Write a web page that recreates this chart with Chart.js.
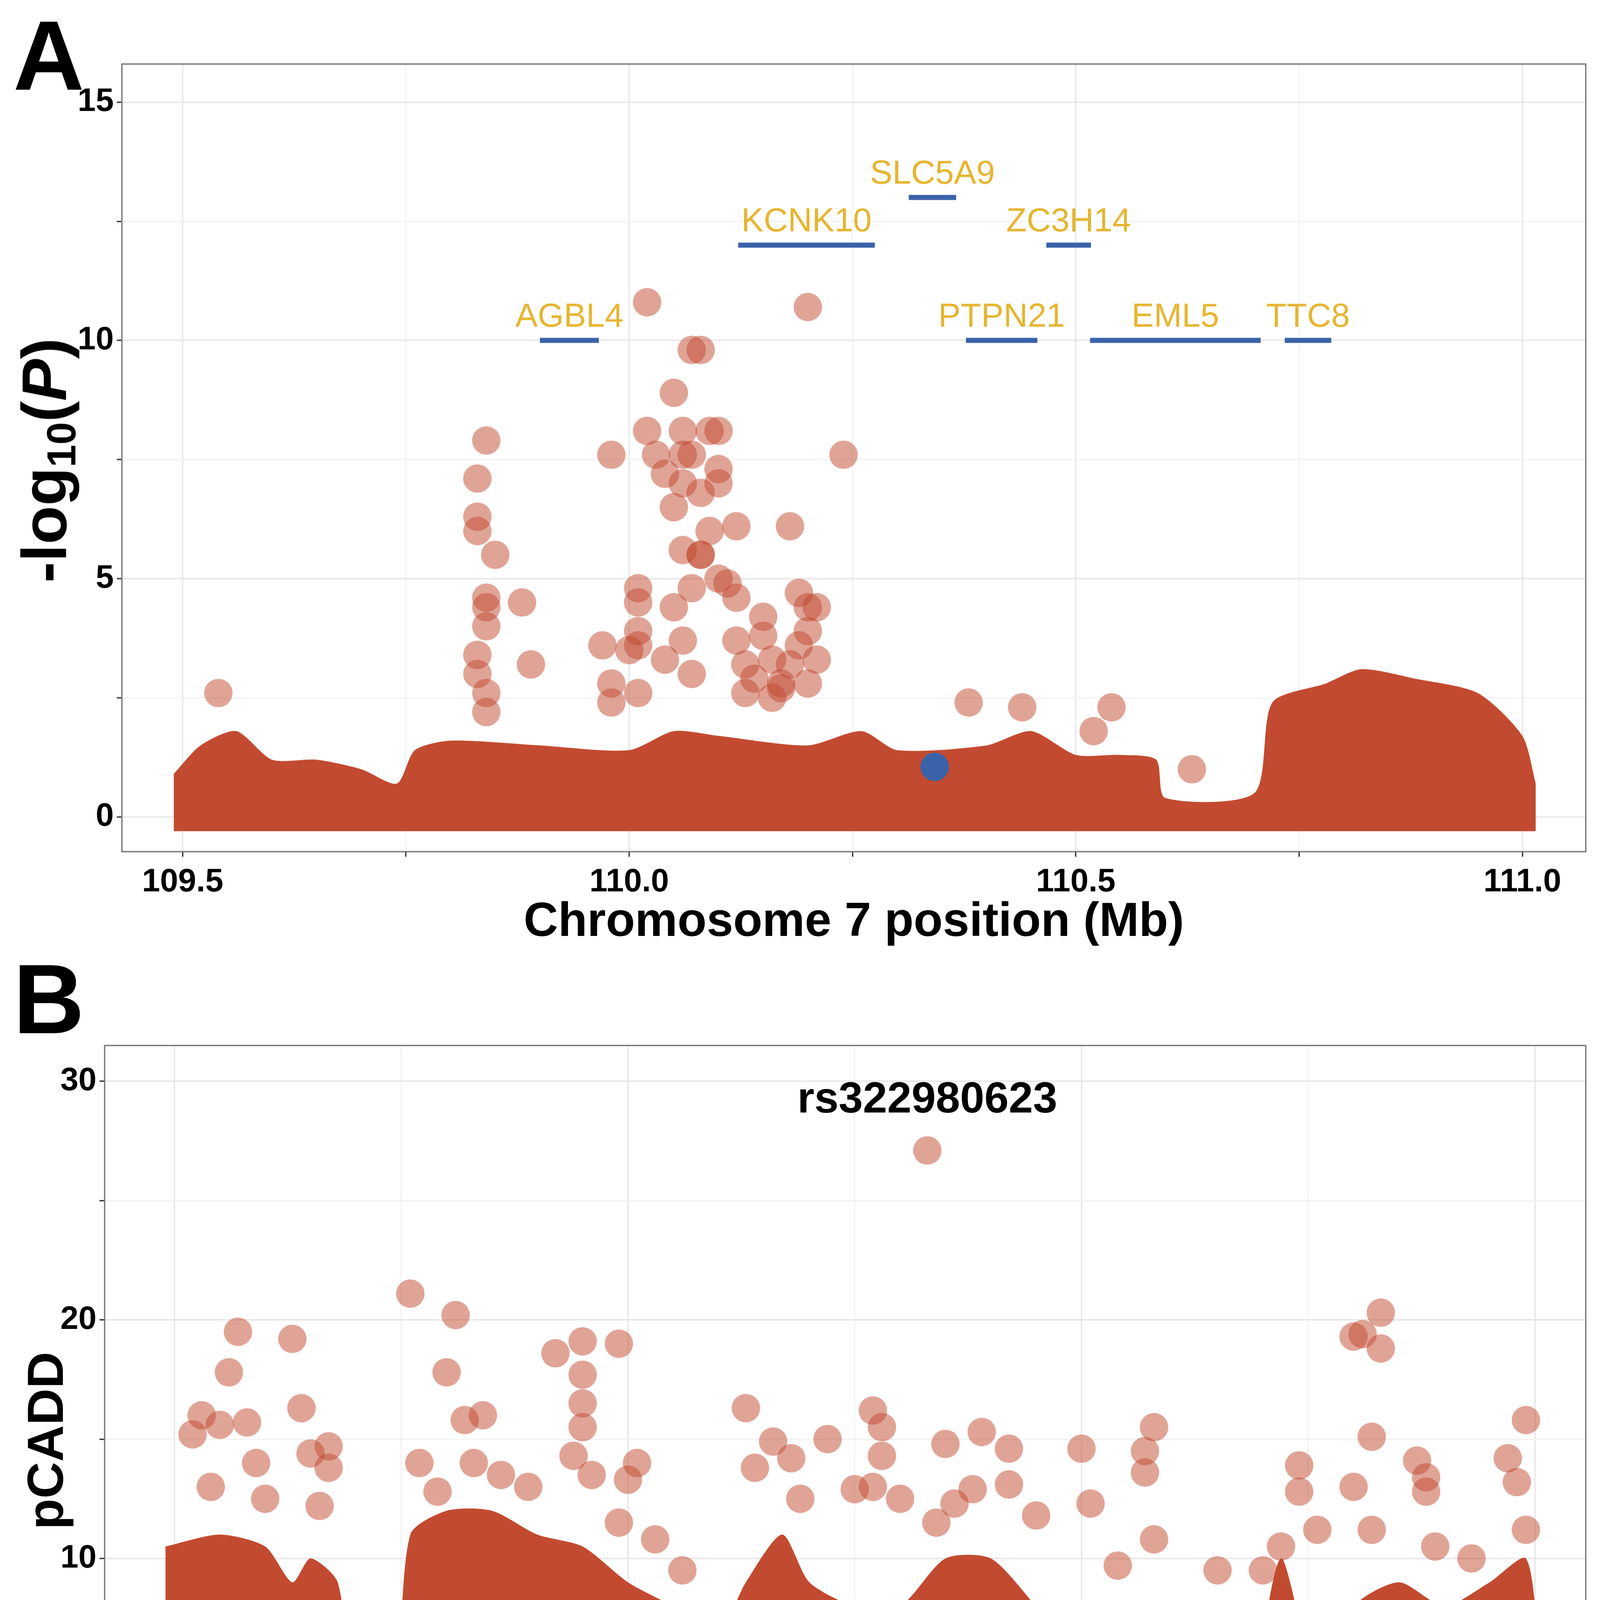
<!DOCTYPE html>
<html>
<head>
<meta charset="utf-8">
<script src="https://cdn.jsdelivr.net/npm/chart.js@4/dist/chart.umd.min.js"></script>
<style>
  body { margin: 0; background: #fff; overflow: hidden; }
  .wrap { position: absolute; left: 0; }
  canvas { display: block; }
</style>
</head>
<body>
<div class="wrap" id="wrapA"><canvas id="chartA" width="1575" height="940"></canvas></div>
<div class="wrap" id="wrapB"><canvas id="chartB" width="1575" height="960"></canvas></div>
<script>
// ---- panel A data ----
const aBandX = [109.49, 109.52, 109.56, 109.6, 109.65, 109.7, 109.74, 109.76, 109.8, 109.9, 110.0, 110.05, 110.1, 110.2, 110.26, 110.3, 110.4, 110.45, 110.5, 110.55, 110.59, 110.6, 110.7, 110.72, 110.78, 110.82, 110.88, 110.95, 111.0, 111.015];
const aBandY = [0.9, 1.5, 1.8, 1.2, 1.2, 1.0, 0.7, 1.4, 1.6, 1.5, 1.4, 1.8, 1.7, 1.5, 1.8, 1.4, 1.5, 1.8, 1.3, 1.3, 1.2, 0.4, 0.5, 2.4, 2.8, 3.1, 2.9, 2.6, 1.7, 0.7];
const aPoints = [
  [109.54,2.6],[109.83,7.1],[109.84,7.9],[109.83,6.3],[109.83,6.0],[109.85,5.5],[109.84,4.6],[109.84,4.4],
  [109.84,4.0],[109.83,3.4],[109.83,3.0],[109.84,2.6],[109.84,2.2],[109.88,4.5],[109.89,3.2],
  [109.97,3.6],[109.98,2.8],[109.98,2.4],[109.98,7.6],[110.0,3.5],[110.01,2.6],
  [110.02,10.8],[110.02,8.1],[110.05,8.9],[110.06,8.1],[110.07,9.8],[110.08,9.8],[110.03,7.6],[110.04,7.2],
  [110.05,6.5],[110.06,7.0],[110.07,7.6],[110.08,6.8],[110.09,8.1],[110.1,8.1],[110.1,7.3],[110.1,7.0],
  [110.09,6.0],[110.08,5.5],[110.06,5.6],[110.07,4.8],[110.05,4.4],[110.01,4.8],[110.01,4.5],[110.01,3.9],
  [110.01,3.6],[110.04,3.3],[110.06,3.7],[110.07,3.0],[110.1,5.0],[110.11,4.9],[110.12,4.6],[110.12,6.1],
  [110.12,3.7],[110.13,3.2],[110.14,2.9],[110.13,2.6],[110.15,4.2],[110.15,3.8],[110.16,3.3],[110.17,2.8],
  [110.18,6.1],[110.19,4.7],[110.2,4.4],[110.21,4.4],[110.2,3.9],[110.19,3.6],[110.21,3.3],[110.2,2.8],
  [110.18,3.2],[110.16,2.5],[110.17,2.7],[110.2,10.7],[110.24,7.6],[110.38,2.4],[110.44,2.3],[110.54,2.3],
  [110.52,1.8],[110.63,1.0],[110.08,5.5],[110.06,7.6]
];
const leadSnp = [110.342, 1.05];

const geneNames = ["AGBL4", "KCNK10", "SLC5A9", "ZC3H14", "PTPN21", "EML5", "TTC8"];
const geneStart = [109.900, 110.122, 110.313, 110.467, 110.377, 110.516, 110.734];
const geneEnd   = [109.966, 110.275, 110.366, 110.517, 110.457, 110.707, 110.786];
const geneLevel = [10.0, 12.0, 13.0, 12.0, 10.0, 10.0, 10.0];

// ---- panel B data ----
const bBandX1 = [109.49, 109.55, 109.6, 109.63, 109.65, 109.68, 109.7, 109.74, 109.76, 109.8, 109.85, 109.9, 109.95, 110.0, 110.05, 110.1, 110.13, 110.17, 110.2, 110.25, 110.3, 110.35, 110.4, 110.45, 110.5, 110.55, 110.59, 110.6];
const bBandY1 = [10.5, 11, 10.5, 9, 10, 9, 4, 4, 11, 12, 12, 11, 10.5, 9, 8, 7, 9, 11, 9, 8, 8, 10, 10, 8, 6, 5, 5, 1];
const bBandX2 = [110.685, 110.69, 110.72, 110.76, 110.8, 110.85, 110.9, 110.95, 110.99, 111.005];
const bBandY2 = [1, 4, 10, 5, 8, 9, 8, 9, 10, 6];
const bPoints = [
  [109.52,15.2],[109.53,16],[109.55,15.6],[109.56,17.8],[109.57,19.5],[109.58,15.7],[109.54,13],[109.59,14],
  [109.6,12.5],[109.63,19.2],[109.64,16.3],[109.65,14.4],[109.67,13.8],[109.67,14.7],[109.66,12.2],[109.71,5.5],
  [109.76,21.1],[109.77,14],[109.79,12.8],[109.81,20.2],[109.8,17.8],[109.82,15.8],[109.84,16],[109.83,14],
  [109.86,13.5],[109.89,13],[109.92,18.6],[109.94,14.3],[109.95,19.1],[109.95,17.7],[109.95,16.5],[109.95,15.5],
  [109.96,13.5],[109.99,19],[110.0,13.3],[110.01,14],[109.99,11.5],[110.03,10.8],[110.06,9.5],[110.13,16.3],
  [110.14,13.8],[110.16,14.9],[110.18,14.2],[110.22,15],[110.19,12.5],[110.25,12.9],[110.27,16.2],[110.28,15.5],
  [110.28,14.3],[110.27,13],[110.3,12.5],[110.33,27.1],[110.35,14.8],[110.36,12.3],[110.34,11.5],[110.39,15.3],
  [110.42,14.6],[110.42,13.1],[110.38,12.9],[110.45,11.8],[110.5,14.6],[110.51,12.3],[110.54,9.7],[110.57,14.5],
  [110.58,15.5],[110.57,13.6],[110.58,10.8],[110.62,0.4],[110.65,9.5],[110.74,13.9],[110.74,12.8],[110.76,11.2],
  [110.8,19.3],[110.81,19.4],[110.83,20.3],[110.83,18.8],[110.82,15.1],[110.8,13],[110.82,11.2],[110.87,14.1],
  [110.88,13.4],[110.88,12.8],[110.89,10.5],[110.93,10],[110.97,14.2],[110.98,13.2],[110.99,15.8],[110.99,11.2],
  [110.7,9.5],[110.72,10.5]
];
const topSnpLabel = "rs322980623";
const topSnp = [110.33, 29.2];

const RED = '#C24A30';
const RED_A = 'rgba(194,74,48,0.5)';
const FONT = '"Liberation Sans", Arial, sans-serif';

// the layout is drawn on a 1575 px wide base and scaled to the window
const S = (window.innerWidth || 4725) / 1575;
const DPR = (window.devicePixelRatio || 1) * S;

function toXY(xs, ys) { return xs.map((x, i) => ({ x: x, y: ys[i] })); }

function gridColor(ctx, step) {
  const v = ctx.tick ? ctx.tick.value : 0;
  return Math.abs(v / step - Math.round(v / step)) < 1e-6 ? '#e6e6e6' : '#f3f3f3';
}

function scales(xMin, xMax, yMin, yMax, yStep, yWidth, xHeight) {
  return {
    x: {
      type: 'linear', min: xMin, max: xMax,
      afterFit: s => { s.height = xHeight; },
      grid: { color: c => gridColor(c, 0.5), lineWidth: 1.3, drawTicks: true, tickLength: 5, tickColor: '#333' },
      border: { display: false },
      ticks: {
        stepSize: 0.25, includeBounds: false, color: '#000', padding: 6,
        font: { family: FONT, size: 32, weight: 'bold' },
        callback: v => Math.abs(v * 2 - Math.round(v * 2)) < 1e-6 ? v.toFixed(1) : ''
      },
      title: { display: true, text: 'Chromosome 7 position (Mb)', color: '#000', padding: { top: 0, bottom: 4 },
               font: { family: FONT, size: 47, weight: 'bold' } }
    },
    y: {
      type: 'linear', min: yMin, max: yMax,
      afterFit: s => { s.width = yWidth; },
      grid: { color: c => gridColor(c, yStep), lineWidth: 1.3, tickLength: 5, tickColor: '#333' },
      border: { display: false },
      ticks: {
        stepSize: yStep / 2, includeBounds: false, color: '#000', padding: 3,
        font: { family: FONT, size: 32, weight: 'bold' },
        callback: v => Math.abs(v / yStep - Math.round(v / yStep)) < 1e-6 ? String(v) : ''
      }
    }
  };
}

const framePlugin = {
  id: 'frame',
  afterDatasetsDraw(chart, args, opts) {
    const { ctx, chartArea: a } = chart;
    ctx.save();
    ctx.strokeStyle = '#777';
    ctx.lineWidth = 1.3;
    ctx.strokeRect(a.left, a.top, a.right - a.left, a.bottom - a.top);
    ctx.fillStyle = '#000';
    ctx.font = 'bold 97px ' + FONT;
    ctx.textAlign = 'center';
    ctx.textBaseline = 'alphabetic';
    ctx.fillText(opts.letter, 48, opts.letterY);
    ctx.restore();
  }
};

const genePlugin = {
  id: 'geneLabels',
  afterDatasetsDraw(chart) {
    if (chart.canvas.id !== 'chartA') return;
    const { ctx, scales: { x, y } } = chart;
    ctx.save();
    ctx.fillStyle = '#E6B52F';
    ctx.font = '33px ' + FONT;
    ctx.textAlign = 'center';
    ctx.textBaseline = 'middle';
    geneNames.forEach((g, i) => {
      ctx.fillText(g, x.getPixelForValue((geneStart[i] + geneEnd[i]) / 2), y.getPixelForValue(geneLevel[i] + 0.48));
    });
    // y title: -log10(P)
    ctx.translate(48, 453);
    ctx.rotate(-Math.PI / 2);
    ctx.fillStyle = '#000';
    ctx.textBaseline = 'middle';
    ctx.textAlign = 'left';
    const big = 'bold 62px ' + FONT, small = 'bold 40px ' + FONT, ital = 'italic bold 62px ' + FONT;
    const parts = [['-log', big, 0], ['10', small, 15], ['(', big, 0], ['P', ital, 0], [')', big, 0]];
    let w = 0;
    parts.forEach(p => { ctx.font = p[1]; w += ctx.measureText(p[0]).width; });
    let cx = -w / 2;
    parts.forEach(p => { ctx.font = p[1]; ctx.fillText(p[0], cx, p[2]); cx += ctx.measureText(p[0]).width; });
    ctx.restore();
  }
};

const bLabelPlugin = {
  id: 'bLabels',
  afterDatasetsDraw(chart) {
    if (chart.canvas.id !== 'chartB') return;
    const { ctx, scales: { x, y } } = chart;
    ctx.save();
    ctx.fillStyle = '#000';
    ctx.font = 'bold 43px ' + FONT;
    ctx.textAlign = 'center';
    ctx.textBaseline = 'middle';
    ctx.fillText(topSnpLabel, x.getPixelForValue(topSnp[0]), y.getPixelForValue(topSnp[1]));
    ctx.translate(48, 478);
    ctx.rotate(-Math.PI / 2);
    ctx.font = 'bold 50px ' + FONT;
    ctx.fillText('pCADD', 0, 0);
    ctx.restore();
  }
};

function bandSet(xs, ys, base) {
  return { data: toXY(xs, ys), showLine: true, pointRadius: 0, borderWidth: 0, tension: 0.25,
           backgroundColor: RED, borderColor: RED, fill: { value: base }, order: 5 };
}

const geneSets = geneNames.map((g, i) => ({
  data: [{ x: geneStart[i], y: geneLevel[i] }, { x: geneEnd[i], y: geneLevel[i] }],
  showLine: true, pointRadius: 0, borderColor: '#3A62A8', borderWidth: 5, order: 2
}));

const common = {
  responsive: false, animation: false, devicePixelRatio: DPR,
  plugins: { legend: { display: false }, tooltip: { enabled: false } }
};

const chartA = new Chart(document.getElementById('chartA'), {
  type: 'scatter',
  data: {
    datasets: [
      bandSet(aBandX, aBandY, -0.3),
      { data: aPoints.map(p => ({ x: p[0], y: p[1] })), pointRadius: 14, borderWidth: 0,
        backgroundColor: RED_A, order: 4 },
      ...geneSets,
      { data: [{ x: leadSnp[0], y: leadSnp[1] }], pointRadius: 14, borderWidth: 0,
        backgroundColor: '#3A62A8', order: 1 }
    ]
  },
  options: Object.assign({}, common, {
    layout: { padding: { top: 63, right: 4, left: 0, bottom: 0 } },
    scales: scales(109.432, 111.071, -0.73, 15.8, 5, 120, 102),
    plugins: Object.assign({}, common.plugins, { frame: { letter: 'A', letterY: 88 } })
  }),
  plugins: [framePlugin, genePlugin]
});

const chartB = new Chart(document.getElementById('chartB'), {
  type: 'scatter',
  data: {
    datasets: [
      bandSet(bBandX1, bBandY1, -0.6),
      bandSet(bBandX2, bBandY2, -0.6),
      { data: bPoints.map(p => ({ x: p[0], y: p[1] })), pointRadius: 14, borderWidth: 0,
        backgroundColor: RED_A, order: 4 }
    ]
  },
  options: Object.assign({}, common, {
    layout: { padding: { top: 89, right: 4, left: 0, bottom: 0 } },
    scales: scales(109.423, 111.056, -1.5, 31.5, 10, 103, 96),
    plugins: Object.assign({}, common.plugins, { frame: { letter: 'B', letterY: 77 } })
  }),
  plugins: [framePlugin, bLabelPlugin]
});

// stretch both canvases to the window size
[[chartA, 'wrapA', 0, 940], [chartB, 'wrapB', 940, 960]].forEach(([c, id, top, h]) => {
  const wrap = document.getElementById(id);
  wrap.style.top = (top * S) + 'px';
  c.canvas.style.width = (1575 * S) + 'px';
  c.canvas.style.height = (h * S) + 'px';
});
</script>
</body>
</html>
